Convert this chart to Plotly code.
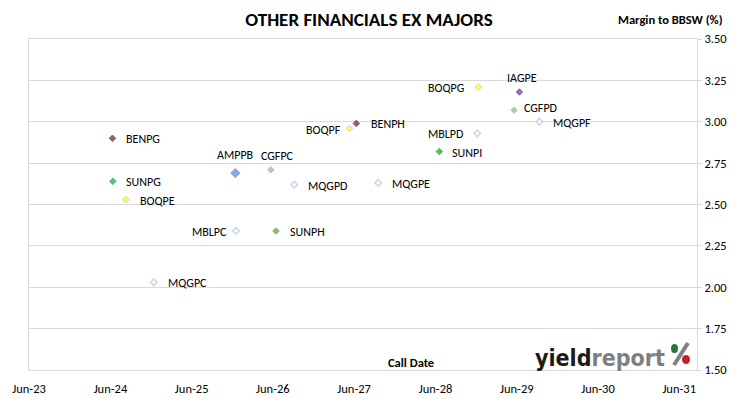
import plotly.graph_objects as go

# ---- data ----
securities = ["BENPG", "SUNPG", "BOQPE", "MQGPC", "AMPPB", "MBLPC", "CGFPC", "SUNPH", "MQGPD",
              "BOQPF", "BENPH", "MQGPE", "SUNPI", "MBLPD", "BOQPG", "CGFPD", "IAGPE", "MQGPF"]
call_dates = ["2024-06-10", "2024-06-12", "2024-08-10", "2024-12-13", "2025-12-14", "2025-12-17",
              "2026-05-23", "2026-06-15", "2026-09-05", "2027-05-11", "2027-06-11", "2027-09-17",
              "2028-06-18", "2028-12-05", "2028-12-11", "2029-05-20", "2029-06-13", "2029-09-11"]
margins = [2.90, 2.64, 2.53, 2.03, 2.69, 2.34, 2.71, 2.34, 2.62,
           2.96, 2.99, 2.63, 2.82, 2.93, 3.21, 3.07, 3.18, 3.00]
y_ticks = [1.50, 1.75, 2.00, 2.25, 2.50, 2.75, 3.00, 3.25, 3.50]
x_tick_labels = ["Jun-23", "Jun-24", "Jun-25", "Jun-26", "Jun-27", "Jun-28", "Jun-29", "Jun-30", "Jun-31"]
x_tick_dates = ["2023-06-01", "2024-06-01", "2025-06-01", "2026-06-01", "2027-06-01",
                "2028-06-01", "2029-06-01", "2030-06-01", "2031-06-01"]

# ---- styles ----
issuer_style = {
    "BEN": dict(fill="#6E1F1F", line="#521515", width=1, size=5),
    "BOQ": dict(fill="#FFFF00", line="#BDBD9A", width=1, size=5),
    "MQG": dict(fill="#FFFFFF", line="#B4C7E7", width=1.6, size=5),
    "MBL": dict(fill="#FFFFFF", line="#B4C7E7", width=1.6, size=5),
    "AMP": dict(fill="#4F86D2", line="#4A7CC0", width=1, size=7),
    "CGF": dict(fill="#A4B85A", line="#93AAC2", width=1, size=5),
    "IAG": dict(fill="#7030A0", line="#62288C", width=1, size=5),
}
sun_style = {
    "SUNPG": dict(fill="#00B050", line="#009944", width=1, size=5),
    "SUNPH": dict(fill="#5E9E3A", line="#4F8A30", width=1, size=5),
    "SUNPI": dict(fill="#00B000", line="#009900", width=1, size=5),
}

def style_of(name):
    if name.startswith("SUN"):
        return sun_style[name]
    return issuer_style[name[:3]]

styles = [style_of(n) for n in securities]

# label placement (anchor, dx, dy) per point
label_anchor = ["left", "left", "left", "left", "center", "right", "center", "left", "left",
                "right", "left", "left", "left", "right", "right", "left", "center", "left"]
label_dx = [12, 11, 12, 12, 0, -7, 7, 12, 12, -6, 13, 12, 11, -12, -12, 8, 3, 12]
label_dy = [-1, -1, -1, -1, 18, -1, 14, -1, -1, -2, -1, -1, -1, -1, -1, 2, 14, -1]

FONT = "Carlito, Calibri, Lato, sans-serif"

fig = go.Figure()
fig.add_trace(go.Scatter(
    x=call_dates, y=margins, mode="markers", text=securities,
    marker=dict(symbol="diamond",
                size=[s["size"] for s in styles],
                color=[s["fill"] for s in styles],
                line=dict(color=[s["line"] for s in styles],
                          width=[s["width"] for s in styles])),
    hovertemplate="%{text}<br>%{x|%b-%y}<br>%{y:.2f}<extra></extra>",
    showlegend=False,
))

for name, xd, yv, anc, dx, dy in zip(securities, call_dates, margins, label_anchor, label_dx, label_dy):
    fig.add_annotation(x=xd, y=yv, xref="x", yref="y", text=name, showarrow=False,
                       xanchor=anc, yanchor="middle", xshift=dx, yshift=dy,
                       font=dict(family=FONT, size=12, color="#000000"))

grid = "#D9D9D9"
fig.update_layout(
    width=730, height=399,
    margin=dict(l=29, r=33, t=39, b=29, autoexpand=False),
    paper_bgcolor="white", plot_bgcolor="white",
    font=dict(family=FONT, size=12, color="#000000"),
    title=dict(text="<b>OTHER FINANCIALS EX MAJORS</b>", x=369 / 730, xanchor="center",
               xref="container", yref="container",
               y=1 - 19.5 / 399, yanchor="middle", font=dict(family=FONT, size=19, color="#000000")),
    xaxis=dict(type="date", range=["2023-06-01", "2031-08-20"], automargin=False,
               tickvals=x_tick_dates, ticktext=x_tick_labels,
               showgrid=False, showline=True, linecolor=grid, linewidth=1, mirror=True,
               ticks="", tickfont=dict(family=FONT, size=12.5), zeroline=False,
               ticklabelstandoff=7),
    yaxis=dict(range=[1.5, 3.5], side="right", tickvals=y_ticks, automargin=False,
               ticktext=[f"{v:.2f}" for v in y_ticks],
               showgrid=True, gridcolor=grid, gridwidth=1,
               showline=True, linecolor=grid, linewidth=1, mirror=True,
               ticks="outside", ticklen=4, tickcolor=grid,
               tickfont=dict(family=FONT, size=12.5), zeroline=False),
)

fig.add_annotation(text="<b>Margin to BBSW (%)</b>", xref="paper", yref="paper",
                   x=1 + 28 / 668, y=1 + 20 / 331, xanchor="right", yanchor="middle",
                   showarrow=False, font=dict(family=FONT, size=12.5, color="#000000"))
fig.add_annotation(text="<b>Call Date</b>", xref="paper", yref="paper",
                   x=(411 - 29) / 668, y=(370 - 362) / 331, xanchor="center", yanchor="middle",
                   showarrow=False, font=dict(family=FONT, size=12.5, color="#000000"))

# yieldreport logo
LOGO = "DejaVu Sans Condensed, DejaVu Sans, sans-serif"
fig.add_annotation(text="<b><span style='color:#1A1A1A'>yield</span><span style='color:#7F7F7F'>report</span></b>",
                   xref="paper", yref="paper", x=(667 - 29) / 668, y=(370 - 358) / 331,
                   xanchor="right", yanchor="middle", showarrow=False,
                   font=dict(family=LOGO, size=23))
# percent sign: grey slash with green/red dots
px = lambda v: (v - 29) / 668
py = lambda v: (370 - v) / 331
fig.add_shape(type="line", xref="paper", yref="paper", x0=px(674), y0=py(365), x1=px(688), y1=py(343),
              line=dict(color="#808080", width=4))
fig.add_shape(type="circle", xref="paper", yref="paper", x0=px(671), y0=py(353), x1=px(678), y1=py(344),
              fillcolor="#1F7A3A", line=dict(color="#1F7A3A", width=0))
fig.add_shape(type="circle", xref="paper", yref="paper", x0=px(682), y0=py(364), x1=px(690), y1=py(355),
              fillcolor="#C4202B", line=dict(color="#C4202B", width=0))

fig.write_html("out.html", config={"displayModeBar": False},
               post_script="document.body.style.margin='0px';document.body.style.overflow='hidden';")
